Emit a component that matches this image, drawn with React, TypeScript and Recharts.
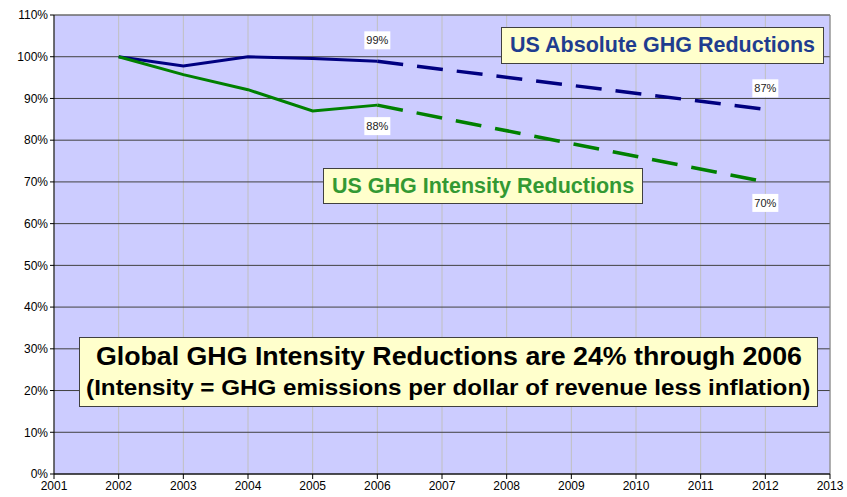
import {
  CartesianGrid,
  LabelList,
  Line,
  LineChart,
  ReferenceLine,
  XAxis,
  YAxis,
} from 'recharts';

// values (percent of 2002 level)
const years = [2002, 2003, 2004, 2005, 2006, 2012];
const absoluteActual = [100, 97.8, 100, 99.6, 98.9, null];
const absoluteTarget = [null, null, null, null, 98.9, 87.4];
const intensityActual = [100, 95.7, 92.1, 87.0, 88.4, null];
const intensityTarget = [null, null, null, null, 88.4, 70.0];

const xTicks = [2001, 2002, 2003, 2004, 2005, 2006, 2007, 2008, 2009, 2010, 2011, 2012, 2013];
const yTicks = [0, 10, 20, 30, 40, 50, 60, 70, 80, 90, 100, 110];

const data = years.map((year, i) => ({
  year,
  absoluteActual: absoluteActual[i],
  absoluteTarget: absoluteTarget[i],
  intensityActual: intensityActual[i],
  intensityTarget: intensityTarget[i],
}));

const FONT = "'Liberation Sans', Arial, sans-serif";
const NAVY = '#000080';
const GREEN = '#008000';

function pctLabel(dy: number) {
  return (props: any) => {
    const { x, y, value } = props;
    if (value == null) return null;
    const cy = y + dy;
    return (
      <g>
        <rect x={x - 13} y={cy - 9} width={26} height={18} fill="#ffffff" />
        <text
          x={x}
          y={cy + 4}
          textAnchor="middle"
          fontSize={11}
          fontFamily={FONT}
          fill="#222"
        >
          {Math.round(value) + '%'}
        </text>
      </g>
    );
  };
}

const boxBase: React.CSSProperties = {
  position: 'absolute',
  background: '#ffffcc',
  border: '1px solid #404040',
  boxSizing: 'border-box',
  display: 'flex',
  flexDirection: 'column',
  alignItems: 'center',
  justifyContent: 'center',
  fontFamily: FONT,
  fontWeight: 'bold',
  whiteSpace: 'nowrap',
};

export default function App() {
  return (
    <div style={{ position: 'absolute', left: 0, top: 0, width: 847, height: 497, background: '#fff' }}>
      <LineChart
        width={847}
        height={497}
        data={data}
        margin={{ top: 15, right: 17, bottom: 0, left: 0 }}
      >
        <CartesianGrid fill="#ccccff" stroke="#c0c0c0" horizontal={false} />
        <CartesianGrid stroke="#404040" vertical={false} fill="none" />
        <XAxis
          dataKey="year"
          type="number"
          domain={[2001, 2013]}
          ticks={xTicks}
          interval={0}
          height={23}
          tickSize={5}
          tickLine={{ stroke: '#000' }}
          axisLine={{ stroke: '#000' }}
          tick={{ fontSize: 12, fontFamily: FONT, fill: '#000' }}
        />
        <YAxis
          type="number"
          domain={[0, 110]}
          ticks={yTicks}
          interval={0}
          width={54}
          tickSize={4}
          tickLine={{ stroke: '#000' }}
          axisLine={{ stroke: '#000' }}
          tickFormatter={(v: number) => v + '%'}
          tick={{ fontSize: 12, fontFamily: FONT, fill: '#000' }}
        />
        <ReferenceLine y={110} stroke="#808080" />
        <ReferenceLine x={2013} stroke="#808080" />
        <Line
          dataKey="absoluteActual"
          stroke={NAVY}
          strokeWidth={3}
          dot={false}
          activeDot={false}
          type="linear"
          isAnimationActive={false}
        />
        <Line
          dataKey="intensityActual"
          stroke={GREEN}
          strokeWidth={3}
          dot={false}
          activeDot={false}
          type="linear"
          isAnimationActive={false}
        />
        <Line
          dataKey="absoluteTarget"
          stroke={NAVY}
          strokeWidth={3.5}
          strokeDasharray="26 14"
          dot={false}
          activeDot={false}
          connectNulls
          type="linear"
          isAnimationActive={false}
        >
          <LabelList dataKey="absoluteTarget" content={pctLabel(-21)} />
        </Line>
        <Line
          dataKey="intensityTarget"
          stroke={GREEN}
          strokeWidth={3.5}
          strokeDasharray="26 14"
          dot={false}
          activeDot={false}
          connectNulls
          type="linear"
          isAnimationActive={false}
        >
          <LabelList dataKey="intensityTarget" content={pctLabel(21)} />
        </Line>
      </LineChart>

      <div style={{ ...boxBase, left: 501, top: 27, width: 323, height: 37, color: '#1f3d8f', fontSize: 21.5 }}>
        US Absolute GHG Reductions
      </div>
      <div style={{ ...boxBase, left: 323, top: 168, width: 320, height: 36, color: '#339933', fontSize: 21.5 }}>
        US GHG Intensity Reductions
      </div>
      <div style={{ ...boxBase, left: 79, top: 337, width: 739, height: 70, color: '#000', lineHeight: '31px' }}>
        <div style={{ fontSize: 25, transform: 'scaleX(1.07)' }}>
          Global GHG Intensity Reductions are 24% through 2006
        </div>
        <div style={{ fontSize: 22, transform: 'scaleX(1.1)' }}>
          (Intensity = GHG emissions per dollar of revenue less inflation)
        </div>
      </div>
    </div>
  );
}
